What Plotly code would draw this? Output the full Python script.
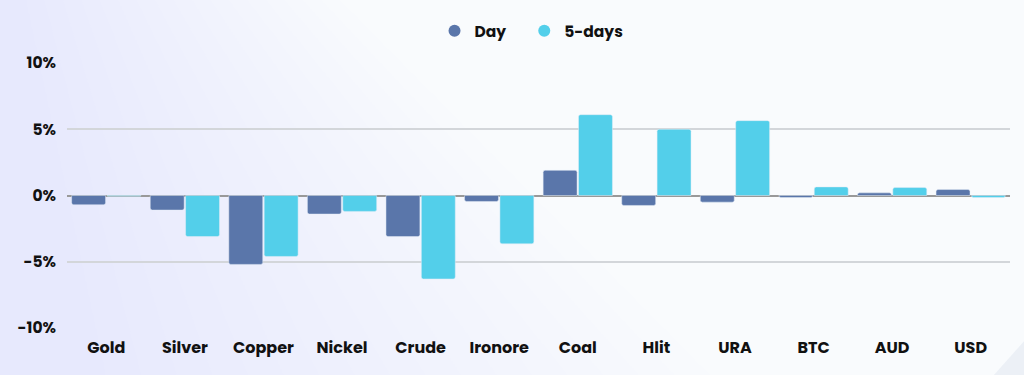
import plotly.graph_objects as go

categories = ["Gold", "Silver", "Copper", "Nickel", "Crude", "Ironore", "Coal", "Hlit", "URA", "BTC", "AUD", "USD"]
day = [-0.7, -1.1, -5.2, -1.4, -3.1, -0.45, 1.9, -0.75, -0.5, -0.15, 0.2, 0.45]
five_days = [-0.05, -3.1, -4.6, -1.2, -6.3, -3.65, 6.1, 5.0, 5.65, 0.65, 0.6, -0.15]
y_ticks = [-10, -5, 0, 5, 10]
y_tick_labels = ["-10%", "-5%", "0%", "5%", "10%"]

DAY_COLOR = "#5A76AA"
FIVE_COLOR = "#53CFEA"
FONT = "Poppins, Inter, 'Open Sans', sans-serif"
NBSP = "\u00a0"

fig = go.Figure()
fig.add_trace(go.Bar(x=categories, y=day, name="Day", marker_color=DAY_COLOR, showlegend=False))
fig.add_trace(go.Bar(x=categories, y=five_days, name="5-days", marker_color=FIVE_COLOR, showlegend=False))
# legend entries with circle markers
fig.add_trace(go.Scatter(x=[None], y=[None], mode="markers", name="Day" + NBSP * 4,
                         marker=dict(color=DAY_COLOR, size=16, symbol="circle")))
fig.add_trace(go.Scatter(x=[None], y=[None], mode="markers", name="5-days",
                         marker=dict(color=FIVE_COLOR, size=16, symbol="circle")))

L, R, T, B = 67, 14, 63, 47
W, H = 1024 - L - R, 375 - T - B

def px_path(pts):
    parts = []
    for i, (px, py) in enumerate(pts):
        x = (px - L) / W
        y = 1 - (py - T) / H
        parts.append(("M" if i == 0 else "L") + f" {x:.4f} {y:.4f}")
    return " ".join(parts) + " Z"

# soft background gradient imitation (layered translucent polygons)
shapes = []
n = 18
for k in range(n):
    xt = 330 - k * 18
    xb = 720 - k * 36
    pts = [(-10, -10), (xt, -10), (xb, 385), (-10, 385)]
    shapes.append(dict(type="path", path=px_path(pts), xref="x domain", yref="y domain",
                       layer="below", line=dict(width=0), fillcolor="#c8d8ec", opacity=0.02))
# small corner accent bottom-right
shapes.append(dict(type="path", path=px_path([(985, 385), (1034, 330), (1034, 385)]),
                   xref="x domain", yref="y domain", layer="below", line=dict(width=0),
                   fillcolor="#e2e9f2", opacity=0.6))

fig.update_layout(
    width=1024, height=375,
    margin=dict(l=L, r=R, t=T, b=B, autoexpand=False),
    paper_bgcolor="#f9fbfd",
    plot_bgcolor="rgba(0,0,0,0)",
    barmode="group",
    bargap=0.1,
    bargroupgap=0.04,
    barcornerradius=2,
    shapes=shapes,
    font=dict(family=FONT, size=15, color="#111111"),
    legend=dict(orientation="h", x=0.4926, xanchor="center", y=0.917, yanchor="middle",
                yref="container", font=dict(family=FONT, size=15.5, color="#111111", weight=700),
                itemsizing="constant", bgcolor="rgba(0,0,0,0)"),
    showlegend=True,
)
fig.update_xaxes(showgrid=False, zeroline=False, showline=False, ticks="", ticklabelstandoff=8,
                 tickfont=dict(family=FONT, size=16, color="#111111", weight=700))
fig.update_yaxes(range=[-10, 10], tickvals=y_ticks, ticktext=y_tick_labels,
                 showgrid=True, gridcolor="#d3d6da", gridwidth=1.5,
                 zeroline=True, zerolinecolor="#999999", zerolinewidth=1.5,
                 showline=False, ticks="", ticklabelstandoff=10,
                 tickfont=dict(family=FONT, size=15.5, color="#111111", weight=700))

fig.write_html("out.html", config={"displayModeBar": False})
with open("out.html", encoding="utf-8") as f:
    html = f.read()
html = html.replace("<head>", "<head><style>html,body{margin:0;padding:0;}</style>", 1)
with open("out.html", "w", encoding="utf-8") as f:
    f.write(html)
